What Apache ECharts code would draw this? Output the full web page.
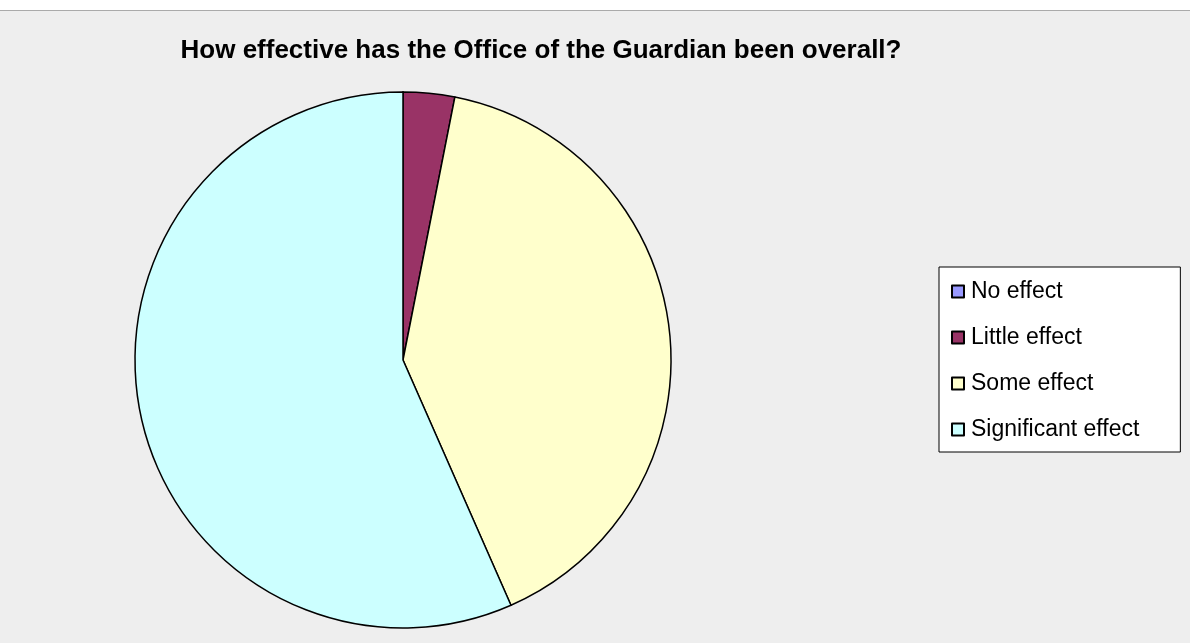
<!DOCTYPE html>
<html><head><meta charset="utf-8">
<script src="https://cdn.jsdelivr.net/npm/echarts@6/dist/echarts.min.js"></script>
<style>
html,body{margin:0;padding:0;background:#fff;}
#wrap{position:absolute;left:0;top:10px;width:1190px;height:633px;border-top:1px solid #aaaaaa;box-sizing:border-box;}
#chart{width:1190px;height:632px;}
</style></head>
<body><div id="wrap"><div id="chart"></div></div>
<script>
const title = 'How effective has the Office of the Guardian been overall?';
const categories = ['No effect', 'Little effect', 'Some effect', 'Significant effect'];
const values = [0, 3.1, 40.3, 56.6];
const colors = ['#9999FF', '#993366', '#FFFFCC', '#CCFFFF'];

const chart = echarts.init(document.getElementById('chart'));
chart.setOption({
  backgroundColor: '#EEEEEE',
  animation: false,
  title: {
    text: title, left: 536, top: 22, textAlign: 'center',
    textStyle: {fontFamily: 'Liberation Sans, Arial, sans-serif', fontSize: 26, fontWeight: 'bold', color: '#000'}
  },
  legend: {
    orient: 'vertical', left: 939, top: 256,
    data: categories,
    backgroundColor: '#fff', borderColor: '#000', borderWidth: 1,
    padding: [13, 41, 11, 12],
    itemGap: 23, itemWidth: 12, itemHeight: 12, icon: 'rect',
    itemStyle: {borderColor: '#000', borderWidth: 2},
    textStyle: {fontFamily: 'Liberation Sans, Arial, sans-serif', fontSize: 23, color: '#000', lineHeight: 22, padding: [0,0,0,2]}
  },
  series: [{
    type: 'pie',
    center: [403, 349],
    radius: 268,
    startAngle: 90,
    clockwise: true,
    minAngle: 0,
    stillShowZeroSum: true,
    label: {show: false}, labelLine: {show: false},
    emphasis: {disabled: true},
    itemStyle: {borderColor: '#000', borderWidth: 1.5},
    data: categories.map((c, i) => ({name: c, value: values[i], itemStyle: {color: colors[i]}}))
  }]
});
</script></body></html>
